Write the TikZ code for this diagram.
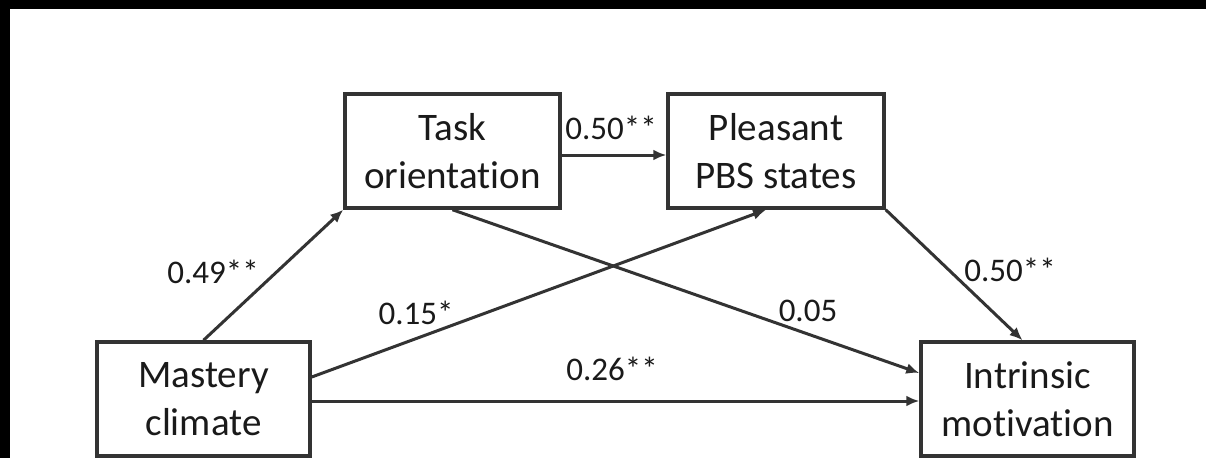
\documentclass[tikz,border=0pt]{standalone}
\usepackage{fontspec}
\setmainfont[Ligatures={NoCommon}]{Carlito}
\usetikzlibrary{arrows.meta,calc}
\definecolor{ink}{HTML}{333333}
\definecolor{txt}{HTML}{1A1A1A}
\tikzset{
  box/.style={draw=ink, line width=3.5pt, fill=white, minimum width=213pt, minimum height=114pt,
    inner sep=0pt, align=center, text=txt, font=\fontsize{39}{48}\selectfont},
  path/.style={draw=ink, line width=3pt, -{Latex[length=13pt,width=11pt]}},
  coef/.style={text=txt, font=\fontsize{33}{40}\selectfont, inner sep=0pt}
}
\begin{document}
\begin{tikzpicture}[x=1pt,y=-1pt]
\useasboundingbox (0,0) rectangle (1206,458);
\fill[black] (0,0) rectangle (1206,458);
\fill[white] (10,9) rectangle (1206,458);
\node[box, minimum width=215pt] (task) at (452.5,151) {Task\\orientation};
\node[box, minimum width=216pt] (pbs) at (776,151) {Pleasant\\PBS states};
\node[box] (mast) at (203.5,399) {Mastery\\climate};
\node[box] (intr) at (1027.5,399) {Intrinsic\\motivation};
\draw[path] (mast.north) -- (task.south west);
\draw[path] ([yshift=22pt]mast.east) -- ([xshift=-10pt]pbs.south);
\draw[path] ([yshift=-2pt]mast.east) -- ([yshift=-2pt]intr.west);
\draw[path] (task.south) -- ([yshift=26pt]intr.west);
\draw[path] ([yshift=-4pt]task.east) -- ([yshift=-4pt]pbs.west);
\draw[path] (pbs.south east) -- ([xshift=-5pt]intr.north);
\node[coef] (c1) at (611,128) {0.50**};
\node[coef] (c2) at (213,272) {0.49**};
\node[coef] (c3) at (416,313) {0.15*};
\node[coef] (c4) at (808,311) {0.05};
\node[coef] (c5) at (612,369) {0.26**};
\node[coef] (c6) at (1010,270) {0.50**};
\end{tikzpicture}
\end{document}
